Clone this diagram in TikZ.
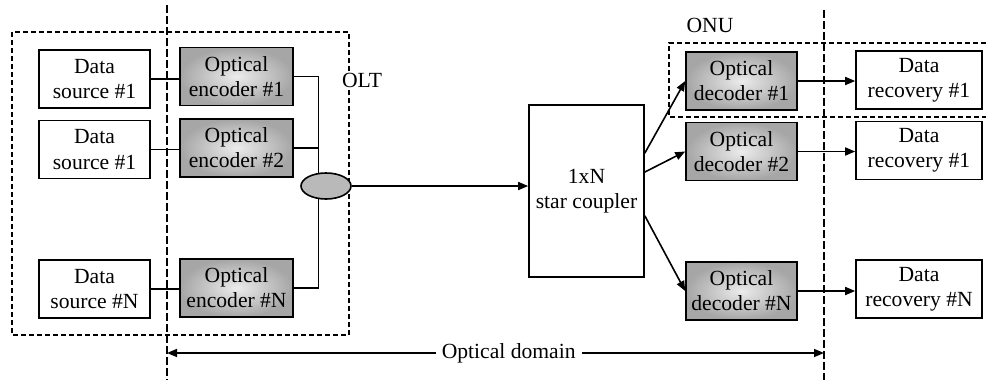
\documentclass[tikz,border=0pt]{standalone}
\usepackage{fontspec}
\setmainfont{Liberation Serif}
\usetikzlibrary{arrows.meta,shapes.geometric}

\begin{document}
\begin{tikzpicture}[
  x=0.5pt, y=-0.5pt, line width=0.8pt,
  >={Triangle[length=5pt,width=4pt]},
  font=\fontsize{10.8}{12.6}\selectfont,
  box/.style={draw,rectangle,align=center,minimum width=55.5pt,minimum height=29pt,inner sep=1pt},
  gbox/.style={box,inner color=gray!15,outer color=gray!70},
  region/.style={dash pattern=on 2.5pt off 1.5pt,line width=0.65pt},
  divider/.style={dash pattern=on 4pt off 1.5pt,line width=0.65pt}
]
  \fill[white] (0,0) rectangle (986,380);
  \useasboundingbox (0,0) rectangle (986,380);
  % regions and domain borders
  \draw[region] (12,32) rectangle (349,335);
  \draw[region] (986,43) -- (669,43) -- (669,117) -- (986,117);
  \coordinate (ltop) at (167,5);
  \coordinate (lbot) at (167,380);
  \coordinate (rtop) at (824,10);
  \coordinate (rbot) at (824,380);
  \draw[divider] (ltop) -- (lbot);
  \draw[divider] (rtop) -- (rbot);
  \node[fill=white,inner sep=1pt] (olt) at (362,80) {OLT};
  \node (onu) at (710,25) {ONU};
  % transmitter side
  \node[box] (src1) at (94.5,79) {Data\\source \#1};
  \node[box] (src2) at (94.5,149.5) {Data\\source \#1};
  \node[box] (srcN) at (94.5,289) {Data\\source \#N};
  \node[gbox,minimum width=56.5pt] (enc1) at (236.5,76.5) {Optical\\encoder \#1};
  \node[gbox,minimum width=56.5pt] (enc2) at (236.5,148) {Optical\\encoder \#2};
  \node[gbox,minimum width=56.5pt] (encN) at (236.5,288) {Optical\\encoder \#N};
  \node[ellipse,draw,fill=gray!55,minimum width=25pt,minimum height=13pt,inner sep=0pt] (cmb) at (326,186) {};
  % coupler
  \node[box,minimum width=57.5pt,minimum height=86pt] (cpl) at (586.5,191) {1xN\\star coupler};
  % receiver side
  \node[gbox] (dec1) at (741.5,81) {Optical\\decoder \#1};
  \node[gbox] (dec2) at (741.5,151.5) {Optical\\decoder \#2};
  \node[gbox] (decN) at (741.5,291) {Optical\\decoder \#N};
  \node[box,minimum width=63pt] (rec1) at (919,80) {Data\\recovery \#1};
  \node[box,minimum width=63pt] (rec2) at (919,150.5) {Data\\recovery \#1};
  \node[box,minimum width=63pt] (recN) at (919,289) {Data\\recovery \#N};
  \draw (src1.east) -- (src1.east -| enc1.west);
  \draw (src2.east) -- (src2.east -| enc2.west);
  \draw (srcN.east) -- (srcN.east -| encN.west);
  \draw (enc1.east) -| (cmb.119);
  \draw (enc2.east) -- (enc2.east -| cmb.119);
  \draw (encN.east) -| (cmb.-119);
  \draw[->] (cmb.east) -- (cmb.east -| cpl.west);
  \draw[->] (cpl.33) -- (dec1.west);
  \draw[->] (cpl.18) -- (dec2.west);
  \draw[->] (cpl.-23) -- (decN.west);
  \draw[->] (dec1.east) -- (dec1.east -| rec1.west);
  \draw[->] (dec2.east) -- (dec2.east -| rec2.west);
  \draw[->] (decN.east) -- (decN.east -| recN.west);
  % optical domain
  \coordinate (odl) at (167,353);
  \coordinate (odr) at (824,353);
  \draw[<->] (odl) -- (odr) node[pos=0.52,fill=white,inner sep=3pt] (odlab) {Optical domain};
\end{tikzpicture}
\end{document}
